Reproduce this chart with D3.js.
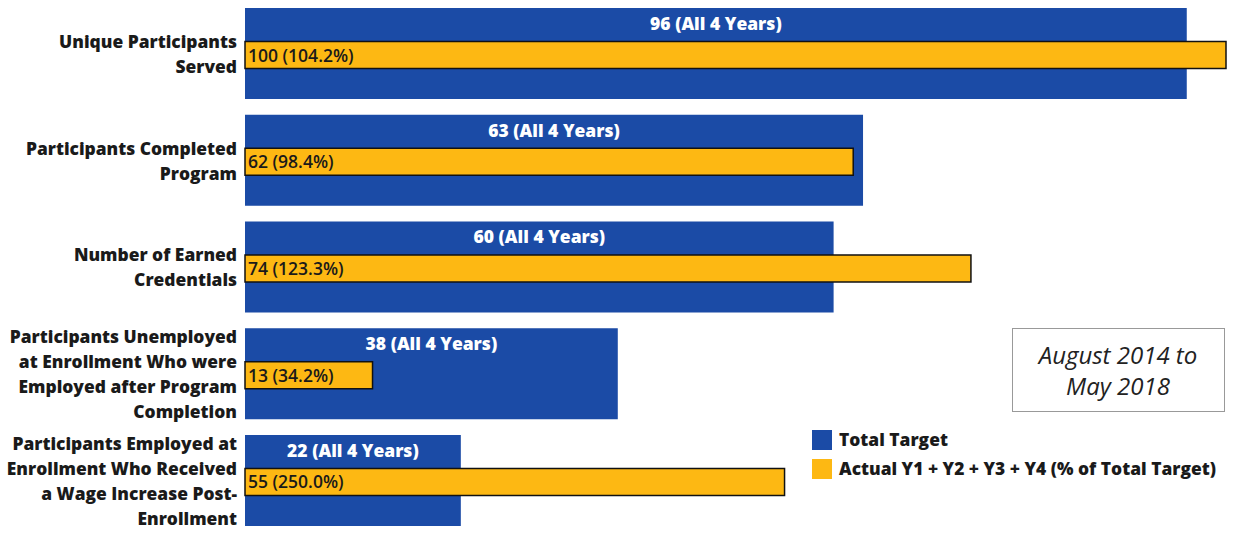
<!DOCTYPE html>
<html lang="en">
<head>
<meta charset="UTF-8">
<title>Targets vs Actual</title>
<script src="https://d3js.org/d3.v7.min.js"></script>
<style>
  body { margin: 0; background: #fff; }
  text { font-family: "Open Sans", Lato, sans-serif; }
</style>
</head>
<body>
<script>
    // data
    var categories = [
        ["Unique Participants", "Served"],
        ["Participants Completed", "Program"],
        ["Number of Earned", "Credentials"],
        ["Participants Unemployed", "at Enrollment Who were", "Employed after Program", "Completion"],
        ["Participants Employed at", "Enrollment Who Received", "a Wage Increase Post-", "Enrollment"]
    ]
    var totalTarget = [96, 63, 60, 38, 22]
    var actual = [100, 62, 74, 13, 55]
    var pctLabels = ["104.2%", "98.4%", "123.3%", "34.2%", "250.0%"]

    var w = 1233, h = 534
    var blue = "#1b4ba6", orange = "#fdb813"

    var svg = d3.select("body").append("svg")
        .attr("width", w)
        .attr("height", h)

    var x = d3.scaleLinear().domain([0, 100]).range([245, 1226])
    var y = d3.scaleBand()
        .domain(d3.range(categories.length))
        .range([8, 526])
        .paddingInner(0.1475)
        .paddingOuter(0)

    var rows = svg.selectAll("g.row")
        .data(d3.range(categories.length))
        .enter().append("g")
        .attr("class", "row")
        .attr("transform", d => "translate(0," + y(d) + ")")

    var bw = y.bandwidth()

    // blue target bars
    rows.append("rect")
        .attr("x", x(0))
        .attr("y", 0)
        .attr("width", d => x(totalTarget[d]) - x(0))
        .attr("height", bw)
        .attr("fill", blue)

    rows.append("text")
        .attr("x", d => (x(0) + x(totalTarget[d])) / 2)
        .attr("y", 22)
        .attr("text-anchor", "middle")
        .attr("fill", "#fff")
        .attr("font-size", 17.5)
        .attr("font-weight", 800)
        .text(d => totalTarget[d] + " (All 4 Years)")

    // orange actual bars
    rows.append("rect")
        .attr("x", x(0))
        .attr("y", 33.5)
        .attr("width", d => x(actual[d]) - x(0))
        .attr("height", 27)
        .attr("fill", orange)
        .attr("stroke", "#111")
        .attr("stroke-width", 1.5)

    rows.append("text")
        .attr("x", x(0) + 3)
        .attr("y", 53.5)
        .attr("fill", "#1a1a1a")
        .attr("font-size", 17.5)
        .attr("font-weight", 600)
        .text(d => actual[d] + " (" + pctLabels[d] + ")")

    // category labels
    rows.each(function(d) {
        var lines = categories[d]
        var lh = 25
        var t = d3.select(this).append("text")
            .attr("text-anchor", "end")
            .attr("font-size", 17.4)
            .attr("font-weight", 800)
            .attr("fill", "#1a1a1a")
        lines.forEach(function(l, i) {
            t.append("tspan")
                .attr("x", 237)
                .attr("y", bw / 2 + 7 + (i - (lines.length - 1) / 2) * lh)
                .text(l)
        })
    })

    // date box
    svg.append("rect")
        .attr("x", 1012.5).attr("y", 328.5)
        .attr("width", 212).attr("height", 83)
        .attr("fill", "#fff")
        .attr("stroke", "#999")
    svg.append("text")
        .attr("x", 1118).attr("y", 364)
        .attr("text-anchor", "middle")
        .attr("font-size", 24).attr("font-style", "italic")
        .attr("fill", "#222")
        .text("August 2014 to")
    svg.append("text")
        .attr("x", 1118).attr("y", 395)
        .attr("text-anchor", "middle")
        .attr("font-size", 24).attr("font-style", "italic")
        .attr("fill", "#222")
        .text("May 2018")

    // legend
    var legend = [["Total Target", blue], ["Actual Y1 + Y2 + Y3 + Y4 (% of Total Target)", orange]]
    var lg = svg.selectAll("g.leg").data(legend).enter().append("g")
        .attr("transform", (d, i) => "translate(812," + (430 + i * 29) + ")")
    lg.append("rect").attr("width", 20).attr("height", 20).attr("fill", d => d[1])
    lg.append("text")
        .attr("x", 27).attr("y", 16)
        .attr("font-size", 17.4).attr("font-weight", 800)
        .attr("fill", "#1a1a1a")
        .text(d => d[0])
</script>
</body>
</html>
